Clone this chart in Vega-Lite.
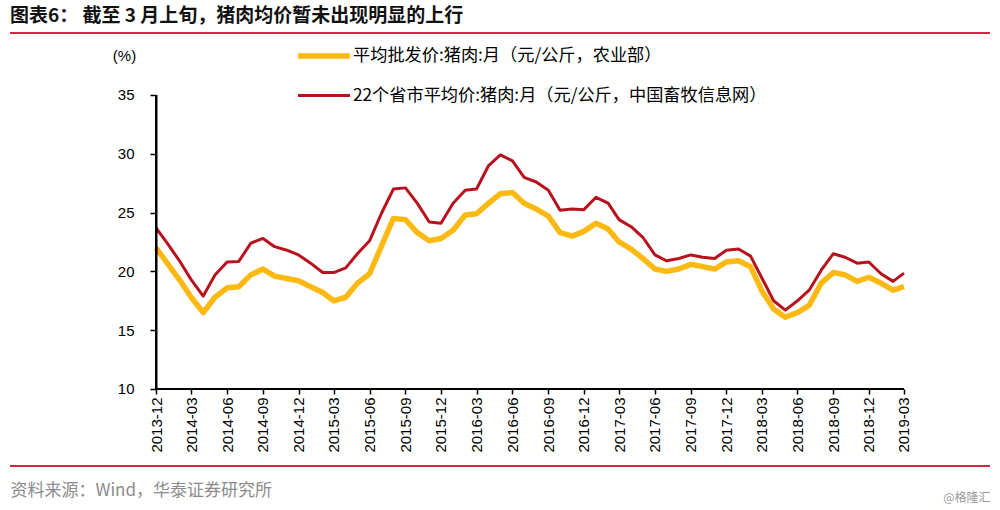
{
  "$schema": "https://vega.github.io/schema/vega-lite/v6.json",
  "width": 980,
  "height": 433,
  "autosize": {"type": "none"},
  "padding": {"left": 10, "top": 33, "right": 10, "bottom": 44},
  "background": "white",
  "config": {"view": {"stroke": null}, "font": "Noto Sans CJK SC"},
  "title": {
    "text": "图表6：  截至 3 月上旬，猪肉均价暂未出现明显的上行",
    "anchor": "start",
    "frame": "group",
    "orient": "top",
    "baseline": "bottom",
    "offset": -18,
    "font": "Noto Sans CJK SC",
    "fontSize": 19,
    "fontWeight": "bold",
    "color": "#111111"
  },
  "data": {
    "values": [
      {"m": "2013-12", "w": 22.0, "r": 23.7},
      {"m": "2014-01", "w": 20.6, "r": 22.3},
      {"m": "2014-02", "w": 19.2, "r": 20.8},
      {"m": "2014-03", "w": 17.8, "r": 19.3},
      {"m": "2014-04", "w": 16.5, "r": 17.9},
      {"m": "2014-05", "w": 17.8, "r": 19.7},
      {"m": "2014-06", "w": 18.6, "r": 20.8},
      {"m": "2014-07", "w": 18.7, "r": 20.85},
      {"m": "2014-08", "w": 19.7, "r": 22.4},
      {"m": "2014-09", "w": 20.2, "r": 22.8},
      {"m": "2014-10", "w": 19.6, "r": 22.1},
      {"m": "2014-11", "w": 19.4, "r": 21.8},
      {"m": "2014-12", "w": 19.2, "r": 21.4},
      {"m": "2015-01", "w": 18.7, "r": 20.7},
      {"m": "2015-02", "w": 18.2, "r": 19.9},
      {"m": "2015-03", "w": 17.5, "r": 19.9},
      {"m": "2015-04", "w": 17.8, "r": 20.3},
      {"m": "2015-05", "w": 19.0, "r": 21.5},
      {"m": "2015-06", "w": 19.8, "r": 22.6},
      {"m": "2015-07", "w": 22.1, "r": 24.9},
      {"m": "2015-08", "w": 24.5, "r": 27.0},
      {"m": "2015-09", "w": 24.4, "r": 27.1},
      {"m": "2015-10", "w": 23.3, "r": 25.8},
      {"m": "2015-11", "w": 22.6, "r": 24.2},
      {"m": "2015-12", "w": 22.8, "r": 24.1},
      {"m": "2016-01", "w": 23.5, "r": 25.8},
      {"m": "2016-02", "w": 24.8, "r": 26.9},
      {"m": "2016-03", "w": 24.9, "r": 27.0},
      {"m": "2016-04", "w": 25.8, "r": 29.0},
      {"m": "2016-05", "w": 26.6, "r": 29.9},
      {"m": "2016-06", "w": 26.7, "r": 29.4},
      {"m": "2016-07", "w": 25.8, "r": 28.0},
      {"m": "2016-08", "w": 25.3, "r": 27.6},
      {"m": "2016-09", "w": 24.7, "r": 26.9},
      {"m": "2016-10", "w": 23.3, "r": 25.2},
      {"m": "2016-11", "w": 23.0, "r": 25.3},
      {"m": "2016-12", "w": 23.4, "r": 25.25},
      {"m": "2017-01", "w": 24.1, "r": 26.3},
      {"m": "2017-02", "w": 23.6, "r": 25.8},
      {"m": "2017-03", "w": 22.5, "r": 24.4},
      {"m": "2017-04", "w": 21.9, "r": 23.8},
      {"m": "2017-05", "w": 21.1, "r": 22.9},
      {"m": "2017-06", "w": 20.2, "r": 21.4},
      {"m": "2017-07", "w": 20.0, "r": 20.9},
      {"m": "2017-08", "w": 20.2, "r": 21.1},
      {"m": "2017-09", "w": 20.6, "r": 21.4},
      {"m": "2017-10", "w": 20.4, "r": 21.2},
      {"m": "2017-11", "w": 20.2, "r": 21.1},
      {"m": "2017-12", "w": 20.8, "r": 21.8},
      {"m": "2018-01", "w": 20.9, "r": 21.9},
      {"m": "2018-02", "w": 20.4, "r": 21.3},
      {"m": "2018-03", "w": 18.4, "r": 19.5},
      {"m": "2018-04", "w": 16.8, "r": 17.5},
      {"m": "2018-05", "w": 16.1, "r": 16.7},
      {"m": "2018-06", "w": 16.5, "r": 17.5},
      {"m": "2018-07", "w": 17.1, "r": 18.4},
      {"m": "2018-08", "w": 19.0, "r": 20.1},
      {"m": "2018-09", "w": 19.9, "r": 21.5},
      {"m": "2018-10", "w": 19.7, "r": 21.2},
      {"m": "2018-11", "w": 19.15, "r": 20.7},
      {"m": "2018-12", "w": 19.5, "r": 20.8},
      {"m": "2019-01", "w": 19.0, "r": 19.8},
      {"m": "2019-02", "w": 18.4, "r": 19.15},
      {"m": "2019-03", "w": 18.7, "r": 19.85}
    ]
  },
  "transform": [{"fold": ["w", "r"], "as": ["s", "v"]}],
  "resolve": {"axis": {"y": "independent"}},
  "layer": [
    {
      "mark": {"type": "rule", "color": "#DA2440", "strokeWidth": 2},
      "encoding": {"y": {"datum": 40.27, "type": "quantitative", "axis": null}}
    },
    {
      "mark": {"type": "rule", "color": "#DA2440", "strokeWidth": 2},
      "encoding": {"y": {"datum": 3.45, "type": "quantitative", "axis": null}}
    },
    {
      "transform": [{"filter": "datum.s == 'w'"}],
      "mark": {"type": "line", "strokeJoin": "round"},
      "encoding": {
        "x": {
          "field": "m",
          "type": "temporal",
          "scale": {
            "type": "utc",
            "domain": [
              {"year": 2012, "month": 11, "date": 22, "utc": true},
              {"year": 2019, "month": 10, "date": 7, "hours": 7, "utc": true}
            ],
            "nice": false
          },
          "axis": {
            "orient": "bottom",
            "offset": -77,
            "domain": false,
            "grid": false,
            "values": [
              {"year": 2013, "month": 12, "date": 1, "utc": true},
              {"year": 2014, "month": 3, "date": 1, "utc": true},
              {"year": 2014, "month": 6, "date": 1, "utc": true},
              {"year": 2014, "month": 9, "date": 1, "utc": true},
              {"year": 2014, "month": 12, "date": 1, "utc": true},
              {"year": 2015, "month": 3, "date": 1, "utc": true},
              {"year": 2015, "month": 6, "date": 1, "utc": true},
              {"year": 2015, "month": 9, "date": 1, "utc": true},
              {"year": 2015, "month": 12, "date": 1, "utc": true},
              {"year": 2016, "month": 3, "date": 1, "utc": true},
              {"year": 2016, "month": 6, "date": 1, "utc": true},
              {"year": 2016, "month": 9, "date": 1, "utc": true},
              {"year": 2016, "month": 12, "date": 1, "utc": true},
              {"year": 2017, "month": 3, "date": 1, "utc": true},
              {"year": 2017, "month": 6, "date": 1, "utc": true},
              {"year": 2017, "month": 9, "date": 1, "utc": true},
              {"year": 2017, "month": 12, "date": 1, "utc": true},
              {"year": 2018, "month": 3, "date": 1, "utc": true},
              {"year": 2018, "month": 6, "date": 1, "utc": true},
              {"year": 2018, "month": 9, "date": 1, "utc": true},
              {"year": 2018, "month": 12, "date": 1, "utc": true},
              {"year": 2019, "month": 3, "date": 1, "utc": true}
            ],
            "format": "%Y-%m",
            "labelAngle": -90,
            "labelAlign": "right",
            "labelBaseline": "middle",
            "labelFont": "Liberation Sans",
            "labelFontSize": 15,
            "labelColor": "#000000",
            "labelPadding": 3,
            "labelOverlap": false,
            "labelFlush": false,
            "tickColor": "#000000",
            "tickSize": 5,
            "tickWidth": 1.5,
            "title": "资料来源：Wind，华泰证券研究所",
            "titleX": 0,
            "titleY": 101,
            "titleAlign": "left",
            "titleBaseline": "middle",
            "titleAngle": 0,
            "titleFont": "Noto Sans CJK SC",
            "titleFontSize": 17,
            "titleFontWeight": "normal",
            "titleColor": "#8c8c8c"
          }
        },
        "y": {
          "field": "v",
          "type": "quantitative",
          "scale": {"domain": [3.45, 40.27], "nice": false, "zero": false},
          "axis": {
            "orient": "left",
            "offset": -146,
            "domain": false,
            "grid": false,
            "values": [10, 15, 20, 25, 30, 35],
            "labelFont": "Liberation Sans",
            "labelFontSize": 15,
            "labelColor": "#000000",
            "labelPadding": 16,
            "tickColor": "#000000",
            "tickSize": 6,
            "tickWidth": 1.5,
            "title": "(%)",
            "titleX": -32,
            "titleY": 22,
            "titleAngle": 0,
            "titleAlign": "center",
            "titleBaseline": "middle",
            "titleFont": "Liberation Sans",
            "titleFontSize": 15,
            "titleFontWeight": "normal",
            "titleColor": "#000000"
          }
        },
        "color": {
          "field": "s",
          "type": "nominal",
          "scale": {"domain": ["w", "r"], "range": ["#FDB913", "#B8121E"]},
          "legend": {
            "orient": "none",
            "legendX": 285,
            "legendY": -6,
            "title": null,
            "symbolType": "stroke",
            "symbolSize": 2704,
            "labelFont": "Noto Sans CJK SC",
            "labelFontSize": 17.2,
            "labelColor": "#000000",
            "labelOffset": 0,
            "rowPadding": 1,
            "labelLimit": 600,
            "labelExpr": "datum.label == 'w' ? '平均批发价:猪肉:月（元/公斤，农业部）' : '22个省市平均价:猪肉:月（元/公斤，中国畜牧信息网）'"
          }
        },
        "strokeWidth": {
          "field": "s",
          "type": "nominal",
          "scale": {"domain": ["w", "r"], "range": [5.5, 3]}
        }
      }
    },
    {
      "transform": [{"filter": "datum.s == 'r'"}],
      "mark": {"type": "line", "strokeJoin": "round"},
      "encoding": {
        "x": {"field": "m", "type": "temporal"},
        "y": {
          "field": "v",
          "type": "quantitative",
          "axis": {
            "orient": "right",
            "domain": false,
            "grid": false,
            "ticks": false,
            "labels": false,
            "title": "@格隆汇",
            "titleX": 0,
            "titleY": 464,
            "titleAngle": 0,
            "titleAlign": "right",
            "titleBaseline": "middle",
            "titleFont": "Noto Sans CJK SC",
            "titleFontSize": 12,
            "titleFontWeight": "normal",
            "titleColor": "#9a9a9a"
          }
        },
        "color": {"field": "s", "type": "nominal"},
        "strokeWidth": {"field": "s", "type": "nominal"}
      }
    },
    {
      "mark": {"type": "rule", "color": "#000000", "strokeWidth": 2},
      "encoding": {
        "x": {"datum": {"year": 2013, "month": 12, "date": 1, "utc": true}, "type": "temporal"},
        "y": {"datum": 10, "type": "quantitative", "axis": null},
        "y2": {"datum": 35}
      }
    },
    {
      "mark": {"type": "rule", "color": "#000000", "strokeWidth": 2},
      "encoding": {
        "x": {"datum": {"year": 2013, "month": 12, "date": 1, "utc": true}, "type": "temporal"},
        "x2": {"datum": {"year": 2019, "month": 3, "date": 1, "utc": true}},
        "y": {"datum": 10, "type": "quantitative", "axis": null}
      }
    }
  ]
}
